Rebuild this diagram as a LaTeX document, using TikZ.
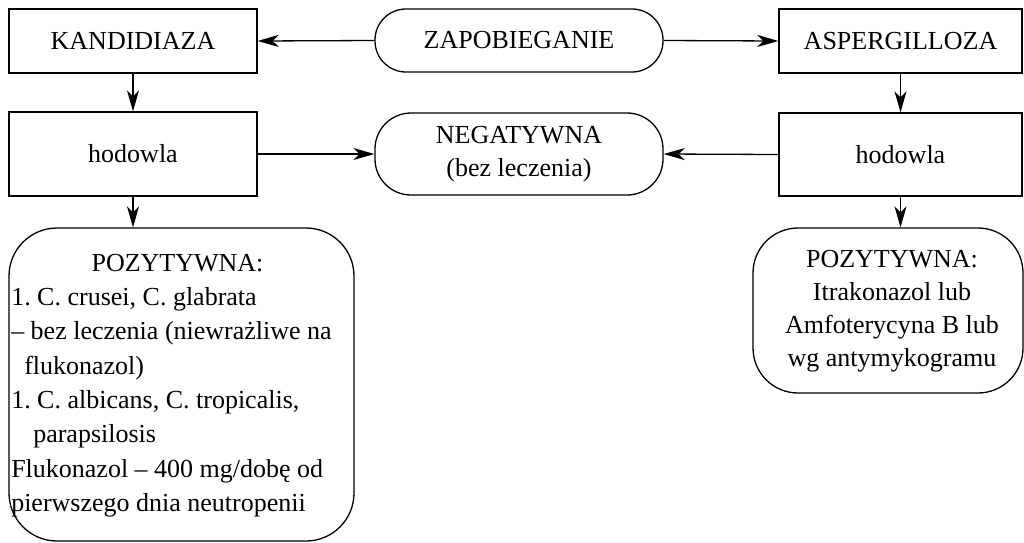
\documentclass[tikz,border=0pt]{standalone}
\usepackage{fontspec}
\setmainfont{Liberation Serif}
\usetikzlibrary{arrows.meta}
\begin{document}
\frenchspacing
\begin{tikzpicture}[x=1pt,y=1pt,
  every node/.style={font=\fontsize{26}{33}\selectfont, inner sep=0pt},
  sqbox/.style={draw, line width=1.3pt, rectangle},
  rbox/.style={draw, line width=1.3pt, rectangle},
  conn/.style={line width=1.3pt, -{Stealth[length=21pt,width=12pt,inset=6pt]}}]
\useasboundingbox (0,0) rectangle (1024,-542);
\node[sqbox, minimum width=248, minimum height=64] (kand) at (133,-41) {KANDIDIAZA};
\node[sqbox, minimum width=248, minimum height=84] (hodl) at (133,-154) {hodowla};
\node[rbox, rounded corners=31, minimum width=288, minimum height=63] (zap) at (519,-40.5) {ZAPOBIEGANIE};
\node[rbox, rounded corners=36, minimum width=288, minimum height=82, align=center] (neg) at (519,-154) {NEGATYWNA\\(bez leczenia)};
\node[sqbox, minimum width=243, minimum height=64] (asp) at (900.5,-41) {ASPERGILLOZA};
\node[sqbox, minimum width=243, minimum height=83] (hodr) at (900.5,-154.5) {hodowla};
\node[rbox, rounded corners=48, minimum width=345, minimum height=313,
  font=\fontsize{26}{34.3}\selectfont] (pozl) at (181.5,-384.5) {\raisebox{3pt}{\hspace*{-20pt}\begin{tabular}{@{}l@{}}\multicolumn{1}{@{}c@{}}{\hspace*{12pt}POZYTYWNA:}\\
1. C. crusei, C. glabrata\\
-- bez leczenia (niewrażliwe na\\
\hspace*{13pt}flukonazol)\\
1. C. albicans, C. tropicalis,\\
\hspace*{22pt}parapsilosis\\
Flukonazol -- 400 mg/dobę od\\
pierwszego dnia neutropenii\end{tabular}}};
\node[rbox, rounded corners=45, minimum width=270, minimum height=165] (pozr) at (888,-310.5) {\raisebox{5pt}{\hspace*{8pt}\begin{tabular}{@{}c@{}}POZYTYWNA:\\Itrakonazol lub\\Amfoterycyna B lub\\wg antymykogramu\end{tabular}}};
\draw[conn] (zap.west) -- (kand.east);
\draw[conn] (zap.east) -- (asp.west);
\draw[conn] (kand.south) -- (hodl.north);
\draw[conn] (hodl.south) -- (hodl.south |- pozl.north);
\draw[conn] (hodl.east) -- (neg.west);
\draw[conn] (hodr.west) -- (neg.east);
\draw[conn] (asp.south) -- (hodr.north);
\draw[conn] (hodr.south) -- (hodr.south |- pozr.north);
\end{tikzpicture}
\end{document}
